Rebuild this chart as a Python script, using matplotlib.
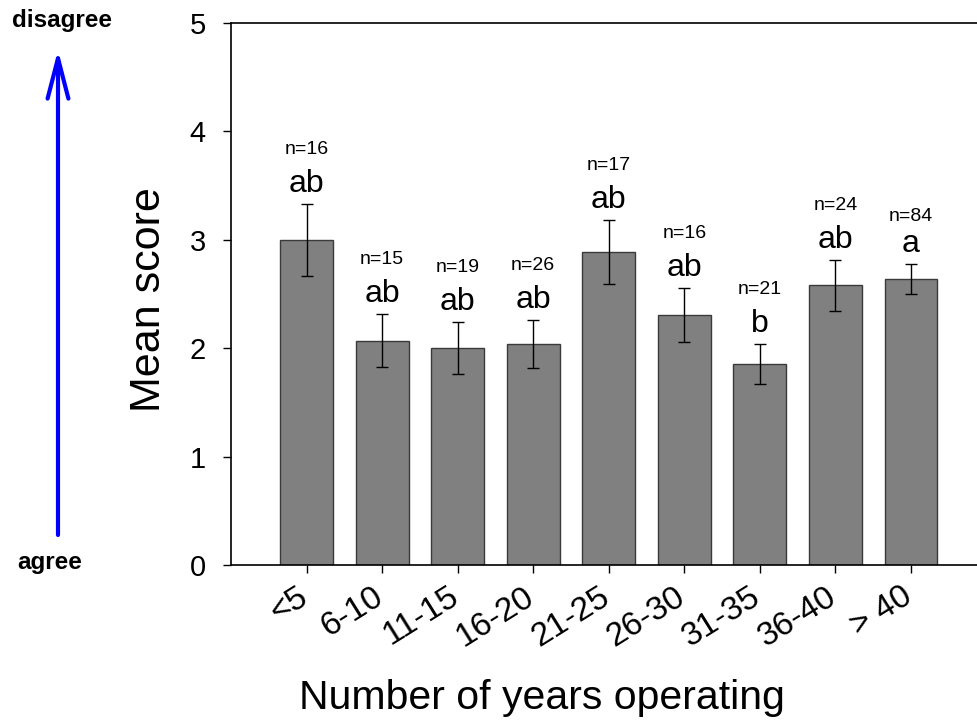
import numpy as np
import matplotlib
matplotlib.use("Agg")
import matplotlib.pyplot as plt

plt.rcParams['font.family'] = ['Liberation Sans', 'DejaVu Sans']

# data
groups = ['<5', '6-10', '11-15', '16-20', '21-25', '26-30', '31-35', '36-40', '> 40']
means = [3.00, 2.07, 2.00, 2.04, 2.885, 2.31, 1.857, 2.58, 2.64]
sems = [0.33, 0.245, 0.24, 0.22, 0.295, 0.25, 0.185, 0.235, 0.14]
letters = ['ab', 'ab', 'ab', 'ab', 'ab', 'ab', 'b', 'ab', 'a']
counts = [16, 15, 19, 26, 17, 16, 21, 24, 84]

fig = plt.figure(figsize=(9.77, 7.21), dpi=100)
ax = fig.add_axes([0.2364, 0.2164, 0.7636, 0.7516])

x = np.arange(len(groups))
ax.bar(x, means, width=0.7, color='#808080', edgecolor='#3a3a3a', linewidth=1.0, zorder=2)
ax.errorbar(x, means, yerr=sems, fmt='none', ecolor='black', elinewidth=1.0,
            capsize=4.5, capthick=1.0, zorder=3)

px = 72.0 / fig.dpi
for xi, m, s, let, n in zip(x, means, sems, letters, counts):
    ax.annotate(let, xy=(xi, m + s), xytext=(0, 12 * px), textcoords='offset points',
                ha='center', va='baseline', fontsize=23)
    off = 38 if 'b' in let else 31
    ax.annotate('n=%d' % n, xy=(xi, m + s), xytext=(0, (12 + off) * px),
                textcoords='offset points', ha='center', va='baseline', fontsize=14)

ax.set_xlim(-1, 8.874)
ax.set_ylim(0, 5)
ax.set_yticks([0, 1, 2, 3, 4, 5])
ax.set_xticks(x)
ax.set_xticklabels([])
# rotated category labels, ending just under their tick
for xi, g in zip(x, groups):
    ax.annotate(g, xy=(xi, 0), xycoords=('data', 'axes fraction'),
                xytext=(-10 * px, -16 * px), textcoords='offset points',
                rotation=32, rotation_mode='anchor', ha='right', va='top',
                fontsize=24, annotation_clip=False)
ax.tick_params(axis='y', labelsize=21, direction='out', length=6, width=1, pad=12)
ax.tick_params(axis='x', direction='out', length=6, width=1)
ax.spines['right'].set_visible(False)
for sp in ['left', 'bottom', 'top']:
    ax.spines[sp].set_linewidth(1.2)

ax.set_ylabel('Mean score', fontsize=31)
ax.yaxis.set_label_coords(-0.083, 0.49)
ax.set_xlabel('Number of years operating', fontsize=29.5)
ax.xaxis.set_label_coords(0.417, -0.211)

# agree / disagree arrow on the left
fig.text(62 / 977, 1 - 20 / 721, 'disagree', ha='center', va='center',
         fontsize=17.5, fontweight='bold')
fig.text(50 / 977, 1 - 563 / 721, 'agree', ha='center', va='center',
         fontsize=17.5, fontweight='bold')
ax.annotate('', xy=(58, 721 - 50), xycoords='figure pixels',
            xytext=(58, 721 - 535), textcoords='figure pixels',
            arrowprops=dict(arrowstyle='->, head_length=2.9, head_width=0.75',
                            color='#0000ff', lw=3, mutation_scale=10,
                            shrinkA=0, shrinkB=0))

fig.savefig('out.png', dpi=100)
